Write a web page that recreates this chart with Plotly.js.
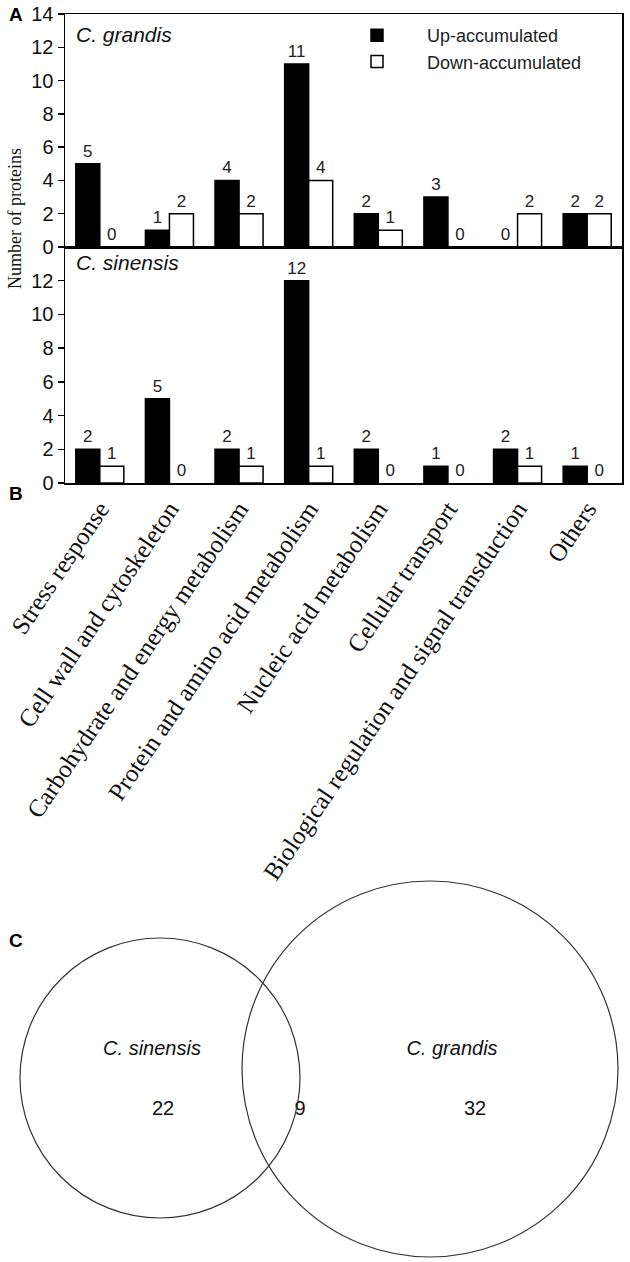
<!DOCTYPE html>
<html>
<head>
<meta charset="utf-8">
<script src="https://cdn.plot.ly/plotly-3.0.1.min.js"></script>
<style>html,body{margin:0;padding:0;background:#fff}#chart{width:630px;height:1262px}</style>
</head>
<body>
<div id="chart"></div>
<script>
// ---------- data ----------
const categories = [
  "Stress response",
  "Cell wall and cytoskeleton",
  "Carbohydrate and energy metabolism",
  "Protein and amino acid metabolism",
  "Nucleic acid metabolism",
  "Cellular transport",
  "Biological regulation and signal transduction",
  "Others"
];
const grandisUp   = [5, 1, 4, 11, 2, 3, 0, 2];
const grandisDown = [0, 2, 2, 4, 1, 0, 2, 2];
const sinensisUp   = [2, 5, 2, 12, 2, 1, 2, 1];
const sinensisDown = [1, 0, 1, 1, 0, 0, 1, 0];
const seriesNames = ["Up-accumulated", "Down-accumulated"];
const yTicksA = [0, 2, 4, 6, 8, 10, 12, 14];
const yTicksB = [0, 2, 4, 6, 8, 10, 12];
const vennSets = ["C. sinensis", "C. grandis"];
const vennCounts = [22, 9, 32]; // sinensis only, shared, grandis only

// ---------- layout helpers (pixels) ----------
const W = 630, H = 1262;
const px = x => x / W;
const py = y => 1 - y / H;
const plotL = 65, plotR = 622;
const aTop = 14, abBorder = 247, bBot = 483;

// Venn geometry (pixel coords in a pixel-scaled axis)
const vennLeft = {cx: 160, cy: 1078, r: 140};
const vennRight = {cx: 430, cy: 1069, r: 188};
const vennLabelPos = {x: [163, 300, 475], y: 1110};
const vennNamePos = {x: [152, 452], y: 1050};

const serif = "Liberation Serif, Times New Roman, serif";
const sans = "Liberation Sans, Arial, sans-serif";

function barTrace(vals, name, fill, xa, ya, showLegend) {
  return {
    type: "bar", x: categories, y: vals, name: name,
    xaxis: xa, yaxis: ya, showlegend: showLegend, legendgroup: name,
    marker: {color: fill, line: {color: "#000", width: vals.map(v => v === 0 ? 0 : 1.5)}},
    text: vals.map(String), textposition: "outside", cliponaxis: false,
    constraintext: "none",
    textfont: {family: sans, size: 17, color: "#222"},
    hoverinfo: "skip"
  };
}

const traces = [
  barTrace(grandisUp, seriesNames[0], "#000", "x", "y", false),
  barTrace(grandisDown, seriesNames[1], "#fff", "x", "y", false),
  barTrace(sinensisUp, seriesNames[0], "#000", "x2", "y2", true),
  barTrace(sinensisDown, seriesNames[1], "#fff", "x2", "y2", true),
  {
    type: "scatter", mode: "text", xaxis: "x3", yaxis: "y3", showlegend: false,
    x: vennLabelPos.x, y: [vennLabelPos.y, vennLabelPos.y, vennLabelPos.y],
    text: vennCounts.map(String),
    textfont: {family: sans, size: 20, color: "#111"}, hoverinfo: "skip"
  },
  {
    type: "scatter", mode: "text", xaxis: "x3", yaxis: "y3", showlegend: false,
    x: vennNamePos.x, y: [vennNamePos.y, vennNamePos.y],
    text: vennSets.map(s => "<i>" + s + "</i>"),
    textfont: {family: sans, size: 20, color: "#111"}, hoverinfo: "skip"
  }
];

const axisCommon = {
  showline: true, mirror: true, linecolor: "#000", linewidth: 1.5,
  showgrid: false, zeroline: false
};

const layout = {
  width: W, height: H,
  margin: {l: 0, r: 0, t: 0, b: 0},
  paper_bgcolor: "#fff", plot_bgcolor: "#fff",
  barmode: "group", bargap: 0.31, bargroupgap: 0,
  showlegend: true,
  legend: {
    x: px(327), y: py(17), xanchor: "left", yanchor: "top",
    bgcolor: "rgba(0,0,0,0)", font: {family: sans, size: 18, color: "#222"},
    itemwidth: 90, tracegroupgap: 0, traceorder: "normal"
  },
  xaxis: Object.assign({}, axisCommon, {
    domain: [px(plotL), px(plotR)], anchor: "y", showticklabels: false,
    ticks: "", categoryorder: "array", categoryarray: categories
  }),
  yaxis: Object.assign({}, axisCommon, {
    domain: [py(abBorder), py(aTop)], anchor: "x", range: [0, 14],
    tickvals: yTicksA, ticks: "outside", ticklen: 6, tickwidth: 1.5, tickcolor: "#000",
    tickfont: {family: sans, size: 20, color: "#111"}
  }),
  xaxis2: Object.assign({}, axisCommon, {
    domain: [px(plotL), px(plotR)], anchor: "y2",
    ticks: "", tickangle: -56, categoryorder: "array", categoryarray: categories,
    tickfont: {family: serif, size: 25, color: "#111"}
  }),
  yaxis2: Object.assign({}, axisCommon, {
    domain: [py(bBot), py(abBorder)], anchor: "x2", range: [0, 14],
    tickvals: yTicksB, ticks: "outside", ticklen: 6, tickwidth: 1.5, tickcolor: "#000",
    tickfont: {family: sans, size: 20, color: "#111"}
  }),
  xaxis3: {domain: [0, 1], range: [0, W], visible: false, fixedrange: true, anchor: "y3"},
  yaxis3: {domain: [0, py(842)], range: [H, 842], visible: false, fixedrange: true, anchor: "x3"},
  shapes: [
    {type: "circle", xref: "x3", yref: "y3",
     x0: vennLeft.cx - vennLeft.r, x1: vennLeft.cx + vennLeft.r,
     y0: vennLeft.cy - vennLeft.r, y1: vennLeft.cy + vennLeft.r,
     line: {color: "#333", width: 1.2}},
    {type: "circle", xref: "x3", yref: "y3",
     x0: vennRight.cx - vennRight.r, x1: vennRight.cx + vennRight.r,
     y0: vennRight.cy - vennRight.r, y1: vennRight.cy + vennRight.r,
     line: {color: "#333", width: 1.2}}
  ],
  annotations: [
    {text: "<b>A</b>", xref: "paper", yref: "paper", x: px(7), y: py(14), xanchor: "left", yanchor: "middle",
     showarrow: false, font: {family: sans, size: 19, color: "#000"}},
    {text: "<b>B</b>", xref: "paper", yref: "paper", x: px(7), y: py(493), xanchor: "left", yanchor: "middle",
     showarrow: false, font: {family: sans, size: 19, color: "#000"}},
    {text: "<b>C</b>", xref: "paper", yref: "paper", x: px(7), y: py(940), xanchor: "left", yanchor: "middle",
     showarrow: false, font: {family: sans, size: 19, color: "#000"}},
    {text: "<i>C. grandis</i>", xref: "paper", yref: "paper", x: px(74), y: py(35), xanchor: "left", yanchor: "middle",
     showarrow: false, font: {family: sans, size: 21, color: "#111"}},
    {text: "<i>C. sinensis</i>", xref: "paper", yref: "paper", x: px(74), y: py(263), xanchor: "left", yanchor: "middle",
     showarrow: false, font: {family: sans, size: 21, color: "#111"}},
    {text: "Number of proteins", xref: "paper", yref: "paper", x: px(15), y: py(219), xanchor: "center", yanchor: "middle",
     textangle: -90, showarrow: false, font: {family: serif, size: 18, color: "#111"}}
  ]
};

Plotly.newPlot("chart", traces, layout, {staticPlot: true, displayModeBar: false});
</script>
</body>
</html>
